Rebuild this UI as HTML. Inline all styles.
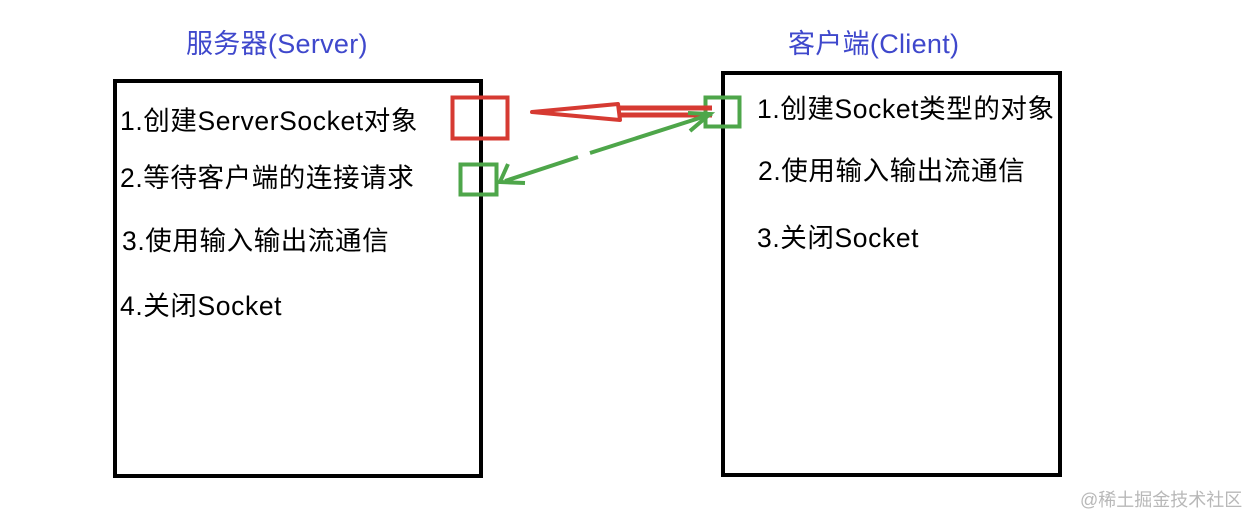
<!DOCTYPE html>
<html><head><meta charset="utf-8"><style>
body{margin:0;width:1258px;height:524px;background:#fff;position:relative;overflow:hidden;font-family:"Liberation Sans","Noto Sans CJK SC",sans-serif}
.t{position:absolute;white-space:nowrap;font-size:26.5px;letter-spacing:0.6px;color:#000;line-height:30px}
.h{position:absolute;white-space:nowrap;font-size:27px;letter-spacing:0.3px;color:#3f48cc;line-height:30px}
</style></head><body>
<svg width="1258" height="524" style="position:absolute;left:0;top:0">
<rect x="115" y="81" width="366" height="395" fill="none" stroke="#000" stroke-width="4"/>
<rect x="723" y="73" width="337" height="402" fill="none" stroke="#000" stroke-width="4"/>
<rect x="452.5" y="97.5" width="55" height="41" fill="none" stroke="#d63a32" stroke-width="4"/>
<rect x="460.5" y="164.5" width="36" height="30" fill="none" stroke="#4ea64a" stroke-width="4"/>
<rect x="705.5" y="97.5" width="34" height="29" fill="none" stroke="#4ea64a" stroke-width="4"/>
<line x1="620" y1="108" x2="712" y2="108" stroke="#d63a32" stroke-width="5"/>
<line x1="620" y1="115" x2="712" y2="115" stroke="#d63a32" stroke-width="5"/>
<polygon points="532,112 618,104 620,120" fill="none" stroke="#d63a32" stroke-width="4" stroke-linejoin="round"/>
<line x1="505" y1="181" x2="578" y2="157" stroke="#4ea64a" stroke-width="4"/>
<line x1="590" y1="153" x2="712" y2="114" stroke="#4ea64a" stroke-width="4"/>
<polyline points="508,164 500,182 525,183" fill="none" stroke="#4ea64a" stroke-width="4"/>
<polyline points="688,113 710,114 690,131" fill="none" stroke="#4ea64a" stroke-width="4"/>
</svg>
<div class="h" style="left:186px;top:29px">服务器(Server)</div>
<div class="h" style="left:788px;top:29px">客户端(Client)</div>
<div class="t" style="left:120px;top:106px">1.创建ServerSocket对象</div>
<div class="t" style="left:120px;top:163px">2.等待客户端的连接请求</div>
<div class="t" style="left:122px;top:226px">3.使用输入输出流通信</div>
<div class="t" style="left:120px;top:291px">4.关闭Socket</div>
<div class="t" style="left:757px;top:94px">1.创建Socket类型的对象</div>
<div class="t" style="left:758px;top:156px">2.使用输入输出流通信</div>
<div class="t" style="left:757px;top:223px">3.关闭Socket</div>
<div style="position:absolute;left:1080px;top:486px;font-size:18px;color:#b8b8b8;white-space:nowrap">@稀土掘金技术社区</div>
</body></html>
